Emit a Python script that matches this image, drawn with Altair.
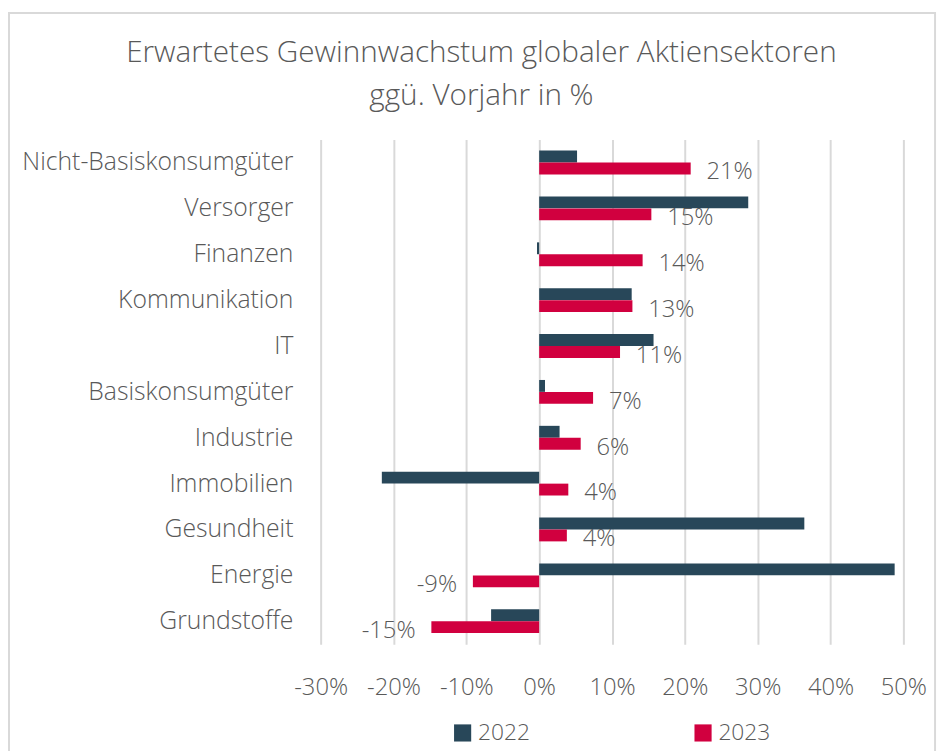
import altair as alt
import pandas as pd

categories = ["Nicht-Basiskonsumgüter", "Versorger", "Finanzen", "Kommunikation", "IT",
              "Basiskonsumgüter", "Industrie", "Immobilien", "Gesundheit", "Energie", "Grundstoffe"]
v2022 = [5.2, 28.7, -0.3, 12.7, 15.7, 0.8, 2.8, -21.6, 36.4, 48.8, -6.6]
v2023 = [20.8, 15.4, 14.2, 12.8, 11.1, 7.4, 5.7, 4.0, 3.8, -9.1, -14.8]
series = ["2022", "2023"]
colors = ["#284759", "#D1003F"]
x_ticks = [-30, -20, -10, 0, 10, 20, 30, 40, 50]

rows = []
for c, a, b in zip(categories, v2022, v2023):
    rows.append({"Sektor": c, "Jahr": "2022", "Wert": a})
    rows.append({"Sektor": c, "Jahr": "2023", "Wert": b})
df = pd.DataFrame(rows)

FONT = "Open Sans"
GRAY = "#595959"
FS = 24

y_enc = alt.Y("Sektor:N", sort=categories, title=None,
              scale=alt.Scale(paddingInner=0.48, paddingOuter=0.24),
              axis=alt.Axis(domain=False, ticks=False, labelPadding=28, labelFontSize=25,
                            labelColor=GRAY, labelFont=FONT, labelFontWeight=300, labelLimit=400))
x_enc = alt.X("Wert:Q", title=None,
              scale=alt.Scale(domain=[-30, 50], nice=False, zero=False),
              axis=alt.Axis(values=x_ticks, labelExpr="datum.value + '%'", grid=True,
                            gridColor="#D9D9D9", gridWidth=2, domain=False, ticks=False,
                            labelOverlap=False, labelFlush=False,
                            labelPadding=32, labelFontSize=FS, labelColor=GRAY, labelFont=FONT,
                            labelFontWeight=300))

base = alt.Chart(df)

bars = base.mark_bar(size=12).encode(
    y=y_enc,
    x=x_enc,
    yOffset=alt.YOffset("Jahr:N", sort=series, scale=alt.Scale(paddingInner=0, paddingOuter=0)),
    color=alt.Color("Jahr:N", sort=series,
                    scale=alt.Scale(domain=series, range=colors),
                    legend=alt.Legend(title=None, orient="none", direction="horizontal",
                                      legendX=132, legendY=588, symbolType="square",
                                      symbolSize=300, symbolStrokeWidth=0, labelFontSize=23,
                                      labelColor=GRAY, labelFont=FONT, labelFontWeight=300,
                                      columnPadding=163, symbolOffset=0, labelOffset=4)),
)

lab = base.transform_filter("datum.Jahr == '2023'").transform_calculate(
    label="round(datum.Wert) + '%'"
)
pos_text = lab.transform_filter("datum.Wert >= 0").mark_text(
    align="left", baseline="middle", dx=16, dy=4, fontSize=FS, font=FONT, fontWeight=300, color=GRAY
).encode(y=alt.Y("Sektor:N", sort=categories), x="Wert:Q",
         yOffset=alt.YOffset("Jahr:N", sort=series), text="label:N")
neg_text = lab.transform_filter("datum.Wert < 0").mark_text(
    align="right", baseline="middle", dx=-16, dy=4, fontSize=FS, font=FONT, fontWeight=300, color=GRAY
).encode(y=alt.Y("Sektor:N", sort=categories), x="Wert:Q",
         yOffset=alt.YOffset("Jahr:N", sort=series), text="label:N")

frame = alt.Chart(alt.Data(values=[{}])).mark_rect(
    fill=None, stroke="#D9D9D9", strokeWidth=2
).encode(x=alt.value(-315), x2=alt.value(621), y=alt.value(-128), y2=alt.value(630))

chart = alt.layer(frame, bars, pos_text, neg_text).properties(
    width=589,
    height=510,
    autosize=alt.AutoSizeParams(type="none"),
    padding={"left": 316, "top": 129, "right": 37, "bottom": 104},
    title=alt.Title(["Erwartetes Gewinnwachstum globaler Aktiensektoren", "ggü. Vorjahr in %"],
                    fontSize=30, font=FONT, fontWeight=300, color=GRAY, anchor="middle",
                    dx=-132, lineHeight=43, offset=-100),
).configure_view(stroke=None)

chart.save("out.html", embed_options={"renderer": "svg", "actions": False})
